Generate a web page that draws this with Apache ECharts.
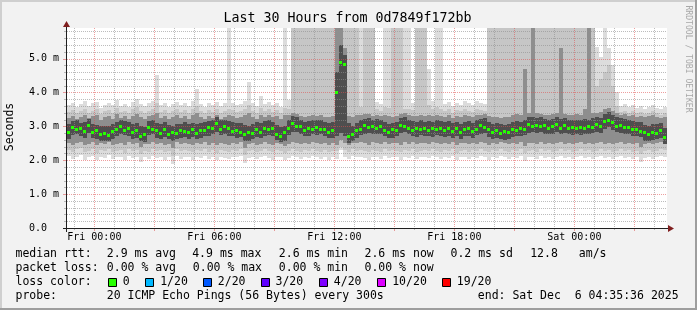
<!DOCTYPE html>
<html><head><meta charset="utf-8">
<script src="https://cdn.jsdelivr.net/npm/echarts@6/dist/echarts.min.js"></script>
<style>html,body{margin:0;padding:0;background:#f2f2f2}#c{width:697px;height:310px}</style>
</head><body><div id="c"></div>
<script>
// ---- time axis: minutes relative to Fri 00:00 ----
const START_MIN = -82;      // left edge of the plot (Thu 22:38)
const END_MIN = 1718;       // right edge (30 h later)
const STEP_MIN = 12;        // width of one sample column
const Y_MAX = 5.9;          // ms

const xLabelMins = [0, 360, 720, 1080, 1440];
const xLabelText = ['Fri 00:00', 'Fri 06:00', 'Fri 12:00', 'Fri 18:00', 'Sat 00:00'];
const hourLineMins = [-60,0,60,120,180,240,300,360,420,480,540,600,660,720,780,840,900,960,1020,1080,1140,1200,1260,1320,1380,1440,1500,1560,1620,1680];
const yGridVals = [0.2,0.4,0.6,0.8,1,1.2,1.4,1.6,1.8,2,2.2,2.4,2.6,2.8,3,3.2,3.4,3.6,3.8,4,4.2,4.4,4.6,4.8,5,5.2,5.4,5.6,5.8];

// ---- median RTT (ms) per column ----
const median = [2.82,2.98,2.92,2.96,2.86,3.05,2.84,2.90,2.76,2.80,
 2.74,2.86,2.92,3.00,2.90,2.96,2.82,2.90,2.72,2.78,
 2.98,2.92,2.88,2.80,2.92,2.78,2.84,2.80,2.90,2.86,
 2.82,2.92,2.80,2.90,2.88,2.97,2.94,3.10,2.92,3.00,
 2.96,2.86,2.90,2.84,2.78,2.82,2.80,2.92,2.84,2.96,
 2.92,2.95,2.78,2.72,2.82,2.94,3.10,3.02,3.00,2.90,
 2.96,2.92,2.98,2.93,2.92,2.84,2.90,4.00,4.90,4.85,
 2.72,2.76,2.90,2.92,3.03,2.98,3.00,2.96,3.02,2.88,
 2.84,2.92,2.88,3.04,3.00,2.95,2.90,2.94,2.92,2.96,
 2.90,2.94,2.92,2.96,2.88,2.96,2.86,2.94,2.84,2.93,
 2.96,2.86,2.92,3.03,2.99,2.92,2.84,2.90,2.80,2.85,
 2.82,2.93,2.90,2.96,2.93,3.06,3.02,3.05,3.01,3.03,
 2.94,3.02,3.07,2.95,3.04,2.94,2.99,2.95,2.98,2.96,
 3.00,2.98,3.08,3.00,3.16,3.20,3.14,3.02,3.05,2.97,
 2.99,2.92,2.93,2.87,2.82,2.76,2.84,2.80,2.90,2.68];

// ---- smoke bands (ms); 9 = beyond the top of the graph ----
const band1Lo = [2.12,2.05,2.10,2.15,2.02,2.08,2.12,2.00,2.10,2.06,
 2.14,2.04,2.08,2.10,2.00,2.12,2.06,2.10,1.95,2.08,
 2.04,2.12,2.06,2.10,2.02,2.08,1.88,2.12,2.05,2.10,
 2.08,2.02,2.10,2.06,2.12,2.04,2.08,2.00,2.10,2.06,
 2.04,2.10,2.08,2.12,1.92,2.06,2.10,2.04,2.08,2.12,
 2.06,2.02,2.10,2.08,2.00,2.06,2.12,2.08,2.04,2.10,
 2.06,2.12,2.08,2.04,2.10,2.02,2.08,2.05,2.30,2.10,
 2.04,2.12,2.08,2.10,2.06,2.02,2.10,2.08,2.04,2.12,
 2.06,2.10,2.08,2.02,2.10,2.06,2.12,2.04,2.08,2.10,
 2.06,2.12,2.08,2.04,2.10,2.06,2.12,2.00,2.08,2.10,
 2.04,2.10,2.06,2.12,2.08,2.02,2.10,2.06,2.12,2.08,
 2.04,2.10,2.06,2.12,1.98,2.08,2.10,2.04,2.12,2.06,
 2.10,2.04,2.08,2.12,2.06,2.10,2.04,2.08,2.12,2.06,
 2.10,2.04,2.08,2.12,2.06,2.10,2.04,2.08,2.12,2.06,
 2.10,2.04,2.08,1.95,2.06,2.10,2.04,2.08,2.12,2.10];
const band1Hi = [3.62,3.70,3.58,3.66,3.75,3.60,3.68,3.72,3.55,3.64,
 3.70,3.62,3.78,3.60,3.66,3.58,3.72,3.80,3.65,3.60,
 3.68,3.74,4.50,3.62,3.70,3.58,3.66,3.72,3.63,3.69,
 3.60,3.75,4.10,3.66,3.58,3.70,3.64,3.72,3.60,3.68,
 9,3.70,3.62,3.66,3.74,4.30,3.68,3.60,3.90,3.65,
 3.72,3.64,3.70,3.58,9,3.78,9,9,9,9,
 9,9,9,9,9,9,9,9,9,9,
 9,9,9,9,9,9,9,3.72,3.66,9,
 9,9,9,9,9,9,3.70,9,9,9,
 4.70,3.74,9,9,3.66,3.72,3.60,3.70,3.64,3.76,
 3.68,3.62,3.74,3.70,3.66,9,9,9,9,9,
 9,9,9,9,9,9,9,9,9,9,
 9,9,9,9,9,9,9,9,9,9,
 9,9,5.35,5.05,9,5.30,4.80,4.00,3.60,3.66,
 3.58,3.62,3.55,3.60,3.52,3.58,3.62,3.55,3.50,3.56];
const band2Lo = [2.30,2.25,2.32,2.35,2.24,2.28,2.33,2.22,2.30,2.27,
 2.34,2.25,2.28,2.31,2.22,2.33,2.27,2.30,2.18,2.28,
 2.25,2.32,2.27,2.30,2.24,2.28,2.12,2.32,2.26,2.30,
 2.28,2.23,2.31,2.27,2.33,2.25,2.29,2.22,2.31,2.27,
 2.25,2.30,2.28,2.32,2.14,2.27,2.30,2.25,2.28,2.32,
 2.27,2.23,2.30,2.28,2.22,2.27,2.32,2.28,2.25,2.30,
 2.27,2.32,2.28,2.25,2.30,2.23,2.28,2.26,2.40,2.30,
 2.25,2.32,2.28,2.30,2.27,2.23,2.30,2.28,2.25,2.32,
 2.27,2.30,2.28,2.23,2.30,2.27,2.32,2.25,2.28,2.30,
 2.27,2.32,2.28,2.25,2.30,2.27,2.32,2.22,2.28,2.30,
 2.25,2.30,2.27,2.32,2.28,2.23,2.30,2.27,2.32,2.28,
 2.25,2.30,2.27,2.32,2.20,2.28,2.30,2.25,2.32,2.27,
 2.30,2.25,2.28,2.32,2.27,2.30,2.25,2.28,2.32,2.27,
 2.30,2.25,2.28,2.32,2.27,2.30,2.25,2.28,2.32,2.27,
 2.30,2.25,2.28,2.18,2.27,2.30,2.25,2.28,2.32,2.30];
const band2Hi = [3.42,3.48,3.38,3.45,3.52,3.40,3.46,3.50,3.36,3.44,
 3.48,3.40,3.55,3.42,3.46,3.38,3.50,3.56,3.44,3.40,
 3.46,3.52,3.70,3.42,3.48,3.38,3.44,3.50,3.42,3.47,
 3.40,3.52,3.60,3.45,3.38,3.48,3.42,3.50,3.40,3.46,
 3.50,3.48,3.42,3.45,3.52,3.62,3.46,3.40,3.55,3.44,
 3.50,3.43,3.48,3.38,3.55,3.52,9,9,9,9,
 9,9,9,9,9,9,9,9,9,9,
 9,9,9,3.56,9,9,9,3.50,3.45,3.58,
 3.55,9,9,9,3.52,3.50,3.48,9,9,9,
 3.62,3.52,3.56,3.50,3.45,3.50,3.40,3.48,3.44,3.52,
 3.46,3.42,3.50,3.48,3.45,9,9,9,9,9,
 9,9,9,9,9,9,9,9,9,9,
 9,9,9,9,9,9,9,9,9,9,
 9,9,4.20,4.40,4.60,4.80,4.20,3.60,3.42,3.46,
 3.40,3.44,3.38,3.42,3.36,3.40,3.44,3.38,3.34,3.40];
const band3Lo = [2.50,2.46,2.52,2.55,2.45,2.49,2.53,2.44,2.50,2.48,
 2.54,2.46,2.49,2.52,2.44,2.53,2.48,2.51,2.40,2.49,
 2.47,2.53,2.48,2.51,2.45,2.49,2.35,2.53,2.47,2.51,
 2.49,2.44,2.52,2.48,2.54,2.46,2.50,2.44,2.52,2.48,
 2.46,2.51,2.49,2.53,2.36,2.48,2.51,2.46,2.49,2.53,
 2.48,2.44,2.51,2.49,2.43,2.48,2.54,2.50,2.47,2.52,
 2.49,2.54,2.50,2.47,2.52,2.45,2.50,2.45,2.60,2.50,
 2.45,2.52,2.50,2.53,2.50,2.46,2.53,2.50,2.47,2.54,
 2.49,2.52,2.50,2.45,2.53,2.49,2.54,2.47,2.50,2.52,
 2.49,2.54,2.50,2.47,2.52,2.49,2.54,2.44,2.50,2.52,
 2.47,2.52,2.49,2.54,2.50,2.45,2.52,2.49,2.54,2.50,
 2.47,2.52,2.49,2.54,2.42,2.50,2.52,2.47,2.54,2.49,
 2.52,2.47,2.50,2.54,2.49,2.52,2.47,2.50,2.54,2.49,
 2.52,2.47,2.50,2.54,2.49,2.52,2.47,2.50,2.54,2.49,
 2.52,2.47,2.50,2.40,2.49,2.52,2.47,2.50,2.54,2.52];
const band3Hi = [3.25,3.30,3.22,3.28,3.33,3.24,3.29,3.32,3.20,3.27,
 3.30,3.23,3.35,3.25,3.29,3.22,3.31,3.36,3.27,3.23,
 3.29,3.33,3.40,3.25,3.30,3.22,3.27,3.32,3.25,3.29,
 3.23,3.33,3.38,3.27,3.22,3.30,3.25,3.32,3.23,3.28,
 3.32,3.30,3.25,3.27,3.33,3.38,3.28,3.23,3.34,3.27,
 3.32,3.26,3.30,3.22,3.33,3.32,3.40,3.36,3.30,3.28,
 3.30,3.34,3.31,3.33,3.28,3.26,3.30,9,9,5.30,
 3.30,3.28,3.32,3.34,3.36,3.35,3.31,3.33,3.30,3.32,
 3.30,3.28,3.31,3.36,3.38,3.33,3.30,3.31,3.34,3.30,
 3.34,3.30,3.33,3.31,3.28,3.32,3.25,3.30,3.27,3.33,
 3.29,3.26,3.32,3.34,3.36,3.30,3.27,3.28,3.25,3.26,
 3.28,3.32,3.35,3.33,4.70,3.40,9,3.38,3.36,3.34,
 3.32,3.35,3.40,5.30,3.36,3.34,3.33,3.35,3.32,3.50,
 9,3.38,3.40,3.42,3.50,3.55,3.45,3.38,3.34,3.36,
 3.30,3.33,3.28,3.31,3.26,3.29,3.32,3.27,3.24,3.28];
const band4Lo = [2.64,2.74,2.76,2.70,2.66,2.80,2.66,2.62,2.58,2.56,
 2.58,2.64,2.70,2.76,2.74,2.72,2.64,2.66,2.56,2.54,
 2.74,2.76,2.66,2.64,2.68,2.62,2.58,2.62,2.66,2.68,
 2.64,2.68,2.64,2.66,2.72,2.72,2.76,2.84,2.74,2.76,
 2.72,2.70,2.66,2.68,2.58,2.56,2.64,2.68,2.66,2.72,
 2.74,2.70,2.60,2.54,2.58,2.74,2.84,2.82,2.76,2.70,
 2.72,2.76,2.74,2.76,2.70,2.66,2.66,2.70,2.80,2.72,
 2.52,2.58,2.66,2.74,2.78,2.80,2.76,2.78,2.76,2.70,
 2.66,2.66,2.70,2.80,2.82,2.76,2.72,2.68,2.74,2.70,
 2.72,2.68,2.74,2.72,2.68,2.72,2.66,2.70,2.64,2.70,
 2.72,2.66,2.74,2.78,2.80,2.68,2.64,2.66,2.62,2.60,
 2.64,2.68,2.72,2.70,2.74,2.80,2.82,2.80,2.82,2.78,
 2.76,2.78,2.82,2.76,2.80,2.76,2.74,2.76,2.74,2.78,
 2.76,2.80,2.82,2.80,2.92,2.98,2.90,2.82,2.80,2.78,
 2.76,2.72,2.70,2.68,2.58,2.56,2.60,2.62,2.66,2.48];
const band4Hi = [3.08,3.15,3.18,3.10,3.12,3.22,3.08,3.05,3.02,3.00,
 3.02,3.06,3.12,3.18,3.16,3.14,3.06,3.10,3.00,2.98,
 3.16,3.20,3.10,3.06,3.12,3.04,3.02,3.06,3.08,3.12,
 3.08,3.10,3.06,3.10,3.14,3.16,3.20,3.28,3.18,3.20,
 3.16,3.12,3.10,3.10,3.04,3.02,3.06,3.12,3.10,3.16,
 3.18,3.14,3.04,2.98,3.02,3.18,3.30,3.26,3.20,3.14,
 3.16,3.20,3.18,3.20,3.12,3.10,3.12,4.60,5.40,5.10,
 3.10,3.02,3.10,3.18,3.22,3.24,3.20,3.22,3.20,3.12,
 3.08,3.10,3.14,3.24,3.26,3.20,3.16,3.12,3.18,3.14,
 3.16,3.12,3.18,3.16,3.12,3.16,3.10,3.14,3.08,3.14,
 3.16,3.10,3.18,3.22,3.24,3.12,3.08,3.10,3.06,3.04,
 3.08,3.12,3.16,3.14,3.20,3.26,3.28,3.24,3.26,3.22,
 3.20,3.22,3.28,3.22,3.24,3.20,3.18,3.20,3.18,3.22,
 3.20,3.24,3.28,3.24,3.36,3.42,3.34,3.26,3.24,3.22,
 3.20,3.16,3.14,3.12,3.04,3.02,3.06,3.06,3.10,2.94];

// ---- legend texts ----
const rttStats = ['2.9 ms avg', '4.9 ms max', '2.6 ms min', '2.6 ms now', '0.2 ms sd', '12.8', 'am/s'];
const lossStats = ['0.00 % avg', '0.00 % max', '0.00 % min', '0.00 % now'];
const lossLabels = ['0', '1/20', '2/20', '3/20', '4/20', '10/20', '19/20'];
const lossColors = ['#26ff00', '#00b8ff', '#0059ff', '#5e00ff', '#7e00ff', '#dd00ff', '#ff0000'];
const probeText = '20 ICMP Echo Pings (56 Bytes) every 300s';
const endText = 'end: Sat Dec  6 04:35:36 2025';
const titleText = 'Last 30 Hours from 0d7849f172bb';

// ---- styles ----
const FONT = '"DejaVu Sans Mono", monospace';
const BAND_COLORS = ['#dcdcdc', '#c6c6c6', '#8e8e8e', '#4e4e4e'];
const GRID_MINOR = 'rgba(143,143,143,0.6)';
const GRID_MAJOR = 'rgba(222,79,79,0.55)';

const smokeData = median.map((m, k) => [START_MIN + k * STEP_MIN,
  band1Lo[k], band1Hi[k], band2Lo[k], band2Hi[k], band3Lo[k], band3Hi[k], band4Lo[k], band4Hi[k]]);
const medianData = median.map((m, k) => [START_MIN + k * STEP_MIN, m]);

function smokeItem(params, api) {
  const t0 = api.value(0), t1 = t0 + STEP_MIN;
  const children = [];
  for (let b = 0; b < 4; b++) {
    const lo = api.value(1 + 2 * b), hi = api.value(2 + 2 * b);
    const p0 = api.coord([t0, hi]), p1 = api.coord([t1, lo]);
    children.push({type: 'rect', shape: {x: Math.round(p0[0]), y: Math.round(p0[1]), width: Math.round(p1[0]) - Math.round(p0[0]), height: Math.round(p1[1]) - Math.round(p0[1])},
      style: {fill: BAND_COLORS[b]}});
  }
  return {type: 'group', children};
}
function medianItem(params, api) {
  const t0 = api.value(0);
  const p0 = api.coord([t0, api.value(1)]), p1 = api.coord([t0 + STEP_MIN, api.value(1)]);
  return {type: 'rect', shape: {x: Math.round(p0[0]), y: Math.round(p0[1]) - 1, width: Math.round(p1[0]) - Math.round(p0[0]) - 1, height: 3},
    style: {fill: lossColors[0]}};
}
function vGridItem(params, api) {
  const t = api.value(0);
  const major = (t % 180 === 0);
  const top = api.coord([t, Y_MAX]), bot = api.coord([t, 0]);
  const x = Math.floor(top[0]) + 0.5;
  const col = major ? GRID_MAJOR : GRID_MINOR;
  return {type: 'group', children: [
    {type: 'line', shape: {x1: x, y1: Math.round(top[1]), x2: x, y2: Math.round(bot[1])}, style: {stroke: col, lineWidth: 1, lineDash: [1, 1]}},
    {type: 'line', shape: {x1: x, y1: Math.round(bot[1]) + 1, x2: x, y2: Math.round(bot[1]) + (major ? 3 : 2)}, style: {stroke: col, lineWidth: 1}}
  ]};
}
function hGridItem(params, api) {
  const v = api.value(0);
  const major = Math.abs(v - Math.round(v)) < 1e-6;
  const l = api.coord([START_MIN, v]), r = api.coord([END_MIN, v]);
  const y = Math.round(l[1]) + 0.5;
  const col = major ? GRID_MAJOR : GRID_MINOR;
  return {type: 'group', children: [
    {type: 'line', shape: {x1: Math.round(l[0]), y1: y, x2: Math.round(r[0]), y2: y}, style: {stroke: col, lineWidth: 1, lineDash: [1, 1]}},
    {type: 'line', shape: {x1: Math.round(l[0]) - (major ? 4 : 3), y1: y, x2: Math.round(l[0]) - 1, y2: y}, style: {stroke: col, lineWidth: 1}}
  ]};
}

function txt(x, y, text, size, extra) {
  return Object.assign({type: 'text', x: x, y: y, silent: true,
    style: Object.assign({text: text, font: size + 'px ' + FONT, fill: '#000', align: 'left', verticalAlign: 'middle',
      textAlign: 'left', textVerticalAlign: 'middle'}, (extra && extra.style) || {})}, (extra && extra.el) || {});
}

const graphics = [
  {type: 'rect', shape: {x: 0, y: 0, width: 697, height: 2}, style: {fill: '#cfcfcf'}, silent: true},
  {type: 'rect', shape: {x: 0, y: 0, width: 2, height: 310}, style: {fill: '#cfcfcf'}, silent: true},
  {type: 'rect', shape: {x: 0, y: 308, width: 697, height: 2}, style: {fill: '#9e9e9e'}, silent: true},
  {type: 'rect', shape: {x: 695, y: 0, width: 2, height: 310}, style: {fill: '#9e9e9e'}, silent: true},
  // axis lines and arrows
  {type: 'line', shape: {x1: 63, y1: 228.5, x2: 669, y2: 228.5}, style: {stroke: '#1f1f1f', lineWidth: 1}, z: 10, silent: true},
  {type: 'line', shape: {x1: 66.5, y1: 232, x2: 66.5, y2: 26}, style: {stroke: '#1f1f1f', lineWidth: 1}, z: 10, silent: true},
  {type: 'polygon', shape: {points: [[668, 225], [668, 232], [674, 228.5]]}, style: {fill: '#801f1f'}, z: 10, silent: true},
  {type: 'polygon', shape: {points: [[63, 27], [70, 27], [66.5, 21]]}, style: {fill: '#801f1f'}, z: 10, silent: true},
  txt(347.5, 18.5, titleText, 13.3, {style: {align: 'center', textAlign: 'center'}}),
  txt(10.5, 127, 'Seconds', 11.5, {style: {align: 'center', textAlign: 'center'}, el: {rotation: Math.PI / 2}}),
  txt(688, 59, 'RRDTOOL / TOBI OETIKER', 8.1, {style: {align: 'center', textAlign: 'center', fill: '#a8a8a8'}, el: {rotation: -Math.PI / 2}}),
  txt(15.5, 254.5, 'median rtt:', 11.5),
  txt(15.5, 268.5, 'packet loss:', 11.5),
  txt(15.5, 282.5, 'loss color:', 11.5),
  txt(15.5, 296.5, 'probe:', 11.5),
  txt(106.8, 296.5, probeText, 11.5),
  txt(477.8, 296.5, endText, 11.5)
];
const rttX = [106.8, 192.2, 278.8, 364.5, 450.5, 530.2, 578.8];
rttStats.forEach((s, i) => graphics.push(txt(rttX[i], 254.5, s, 11.5)));
const lossX = [106.8, 192.8, 278.8, 364.5];
lossStats.forEach((s, i) => graphics.push(txt(lossX[i], 268.5, s, 11.5)));
const boxX = [108.5, 145.5, 203.5, 261.5, 319.5, 377.5, 442.5];
const boxLabelX = [122.8, 160.2, 217.8, 275.5, 333.8, 392.2, 456.8];
lossLabels.forEach((s, i) => {
  graphics.push({type: 'rect', shape: {x: boxX[i], y: 278.5, width: 8, height: 8}, style: {fill: lossColors[i], stroke: '#000', lineWidth: 1}, silent: true});
  graphics.push(txt(boxLabelX[i], 282.5, s, 11.5));
});

const labelMap = {};
xLabelMins.forEach((m, i) => labelMap[m] = xLabelText[i]);

const chart = echarts.init(document.getElementById('c'), null, {renderer: 'canvas', width: 697, height: 310});
chart.setOption({
  animation: false,
  backgroundColor: '#f2f2f2',
  grid: {left: 67, top: 28, width: 600, height: 200, show: true, backgroundColor: '#ffffff', borderWidth: 0, containLabel: false},
  xAxis: {type: 'value', min: START_MIN, max: END_MIN,
    axisLine: {show: false}, axisTick: {show: false}, splitLine: {show: false},
    axisLabel: {customValues: xLabelMins, formatter: v => labelMap[v] || '', fontFamily: FONT, fontSize: 10, color: '#000', margin: 4}},
  yAxis: {type: 'value', min: 0, max: Y_MAX, interval: 1,
    axisLine: {show: false}, axisTick: {show: false}, splitLine: {show: false},
    axisLabel: {formatter: v => (v === 0 ? '0.0  ' : (Math.abs(v - Math.round(v)) < 1e-6 ? v.toFixed(1) + ' m' : '')),
      fontFamily: FONT, fontSize: 10, color: '#000', margin: 8, showMaxLabel: false}},
  graphic: graphics,
  series: [
    {type: 'custom', name: 'smoke', renderItem: smokeItem, data: smokeData, clip: true, z: 2, silent: true,
      encode: {x: 0, y: 1}},
    {type: 'custom', name: 'vgrid', renderItem: vGridItem, data: hourLineMins.map(t => [t]), clip: false, z: 3, silent: true},
    {type: 'custom', name: 'hgrid', renderItem: hGridItem, data: yGridVals.map(v => [v]), clip: false, z: 3, silent: true},
    {type: 'custom', name: 'median', renderItem: medianItem, data: medianData, clip: true, z: 4, silent: true,
      encode: {x: 0, y: 1}}
  ]
});
</script>
</body></html>
